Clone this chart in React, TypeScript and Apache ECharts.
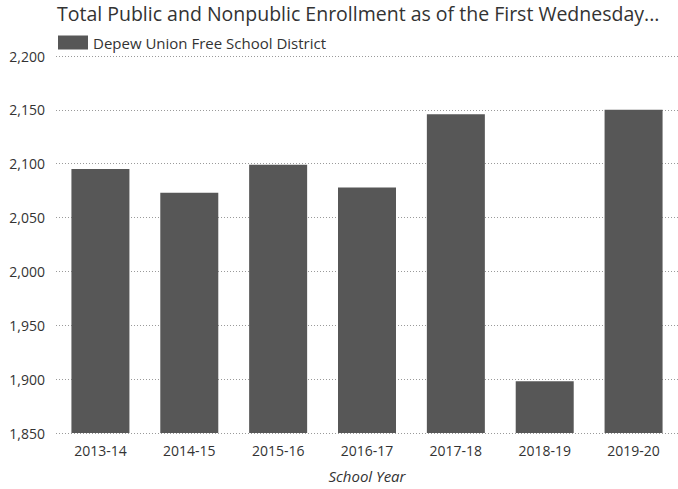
import React, { useEffect, useRef } from "react";
import * as echarts from "echarts";

const title = "Total Public and Nonpublic Enrollment as of the First Wednesday...";
const seriesName = "Depew Union Free School District";
const categories = ["2013-14", "2014-15", "2015-16", "2016-17", "2017-18", "2018-19", "2019-20"];
const enrollment = [2095, 2073, 2099, 2078, 2146, 1898, 2150];
const xAxisName = "School Year";

export default function App() {
  const ref = useRef<HTMLDivElement>(null);
  useEffect(() => {
    if (!ref.current) return;
    const chart = echarts.init(ref.current, null, { renderer: "svg" });
    const font = "'Open Sans', 'Noto Sans', sans-serif";
    chart.setOption({
      animation: false,
      backgroundColor: "#ffffff",
      textStyle: { fontFamily: font },
      title: {
        text: title,
        left: 55,
        top: 1,
        padding: [2, 2],
        textStyle: { fontFamily: font, fontSize: 19.5, fontWeight: "normal", color: "#333" },
      },
      legend: {
        left: 53,
        top: 30,
        itemWidth: 30,
        itemHeight: 14,
        itemGap: 8,
        icon: "rect",
        textStyle: { fontFamily: font, fontSize: 15, color: "#333" },
        data: [seriesName],
      },
      grid: { left: 56, right: -3, top: 56, bottom: 56 },
      xAxis: {
        type: "category",
        data: categories,
        name: xAxisName,
        nameLocation: "middle",
        nameGap: 35,
        nameTextStyle: { fontFamily: font, fontSize: 15, fontStyle: "italic", color: "#333" },
        axisLine: { show: false },
        axisTick: { show: false },
        axisLabel: { fontFamily: font, fontSize: 14, color: "#333", margin: 10 },
      },
      yAxis: {
        type: "value",
        min: 1850,
        max: 2200,
        interval: 50,
        axisLine: { show: false },
        axisTick: { show: false },
        axisLabel: {
          fontFamily: font,
          fontSize: 14,
          color: "#333",
          margin: 11,
          formatter: (v: number) => v.toLocaleString("en-US"),
        },
        splitLine: { lineStyle: { color: "#9a9a9a", type: [1, 2], width: 1 } },
      },
      series: [
        {
          name: seriesName,
          type: "bar",
          data: enrollment,
          barWidth: 58,
          itemStyle: { color: "#575757" },
        },
      ],
    });
    return () => chart.dispose();
  }, []);
  return (
    <div
      ref={ref}
      style={{ position: "fixed", left: 0, top: 0, width: 678, height: 489, background: "#fff" }}
    />
  );
}
